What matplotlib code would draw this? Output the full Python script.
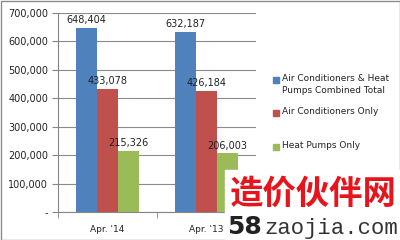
import matplotlib
matplotlib.use("Agg")
import matplotlib.pyplot as plt
from matplotlib.patches import Rectangle
from matplotlib.ticker import FuncFormatter, FixedLocator
import numpy as np

# Shipments by month, year-over-year
categories = ["Apr. '14", "Apr. '13"]
series_names = ["Air Conditioners & Heat\nPumps Combined Total",
                "Air Conditioners Only",
                "Heat Pumps Only"]
combined_total = [648404, 632187]
ac_only = [433078, 426184]
hp_only = [215326, 206003]
y_ticks = [0, 100000, 200000, 300000, 400000, 500000, 600000, 700000]

colors = ["#4F81BD", "#C0504D", "#9BBB59"]
series = [combined_total, ac_only, hp_only]

fig = plt.figure(figsize=(4, 2.4), dpi=100)
ax = fig.add_axes([58 / 400, 1 - 212 / 240, (256 - 58) / 400, (212 - 13) / 240])

x = np.arange(len(categories))
width = 0.213
for i, (vals, c) in enumerate(zip(series, colors)):
    pos = x + (i - 1) * width
    bars = ax.bar(pos, vals, width=width, color=c, zorder=3, linewidth=0)
    for b, v in zip(bars, vals):
        ax.text(b.get_x() + b.get_width() / 2, v + 10000, f"{v:,}",
                ha="center", va="bottom", fontsize=7, color="#222222", zorder=4)

ax.set_xlim(-0.5, len(categories) - 0.5)
ax.set_ylim(0, 700000)
ax.yaxis.set_major_locator(FixedLocator(y_ticks))
ax.yaxis.set_major_formatter(FuncFormatter(lambda v, p: "-" if v == 0 else f"{int(v):,}"))
ax.set_xticks(x)
ax.set_xticklabels(categories)
ax.set_xticks([-0.5, 0.5, 1.5], minor=True)
ax.tick_params(axis="x", which="major", length=0, labelsize=6.5, pad=9, colors="#222222")
ax.tick_params(axis="x", which="minor", length=4, color="#868686", direction="out")
ax.tick_params(axis="y", length=4, color="#868686", labelsize=7, pad=3, colors="#222222")
ax.tick_params(axis="y", color="#868686")
ax.grid(axis="y", color="#8a8a8a", linewidth=0.8, zorder=0)
for s in ["top", "right"]:
    ax.spines[s].set_visible(False)
for s in ["left", "bottom"]:
    ax.spines[s].set_color("#868686")
    ax.spines[s].set_linewidth(0.8)

# Legend drawn beside the plot area
leg_y = [80, 113, 147]
for name, c, yy in zip(series_names, colors, leg_y):
    fig.patches.append(Rectangle((273 / 400, 1 - (yy + 3) / 240), 6 / 400, 6 / 240,
                                 transform=fig.transFigure, color=c, zorder=5))
    fig.text(282 / 400, 1 - (yy - 6) / 240, name, fontsize=6.5, va="top", ha="left",
             linespacing=1.45, color="#222222")

# Outer frame
fig.patches.append(Rectangle((0.5 / 400, 0.5 / 240), 399 / 400, 239 / 240,
                             transform=fig.transFigure, fill=False,
                             edgecolor="#8c8c8c", linewidth=1, zorder=6))

# Site mark in the lower right corner
fig.patches.append(Rectangle((225 / 400, 0), 175 / 400, 70 / 240,
                             transform=fig.transFigure, color="white", zorder=10))
fig.text(313 / 400, 1 - 194 / 240, "造价伙伴网", fontsize=24, fontweight="bold",
         family=["Noto Sans CJK SC", "DejaVu Sans"], color="#E8141B",
         ha="center", va="center", zorder=11)
fig.text(227 / 400, 1 - 234 / 240, "58", fontsize=18, fontweight="bold",
         family="DejaVu Sans", color="#222222", ha="left", va="baseline", zorder=11)
fig.text(264 / 400, 1 - 234 / 240, "zaojia.com", fontsize=16,
         family="Liberation Mono", color="#333333", ha="left", va="baseline", zorder=11)

fig.savefig("out.png", dpi=100)
